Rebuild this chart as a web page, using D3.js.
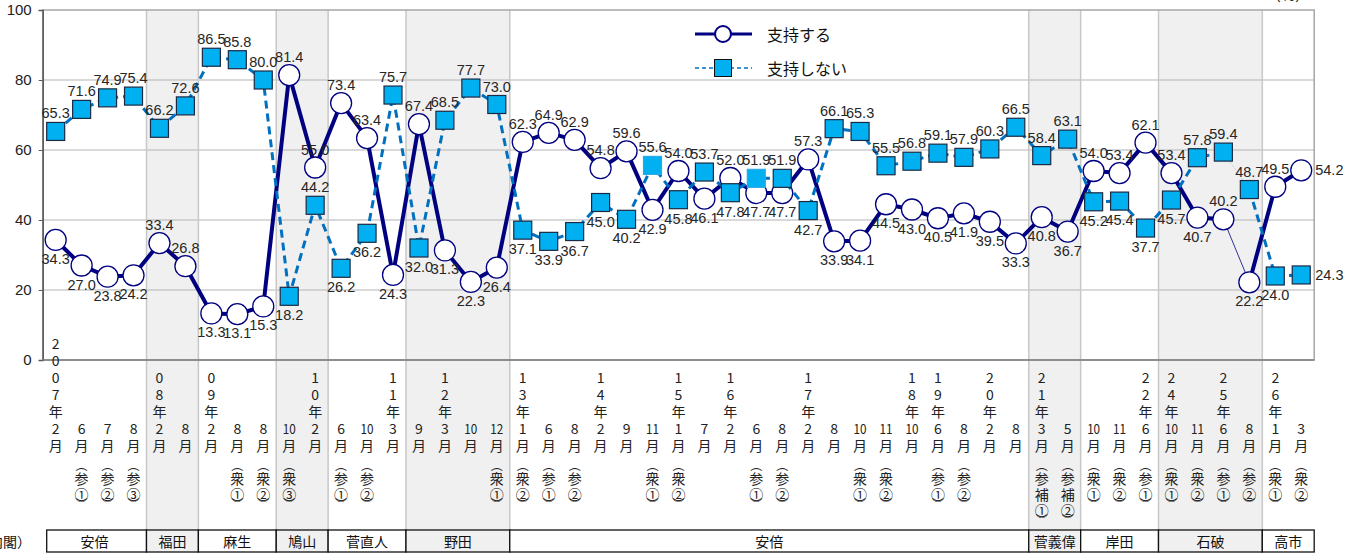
<!DOCTYPE html>
<html>
<head>
<meta charset="utf-8">
<script src="https://cdn.jsdelivr.net/npm/d3@7"></script>
<style>
  body { margin: 0; background: #fff; }
  svg { display: block; }
</style>
</head>
<body>
<svg id="chart"></svg>
<script>
// ---- data ----
const years = ['2007','','','','08','','09','','','','10','','','11','','12','','','13','','','14','','','15','','16','','','17','','','','18','19','','20','','21','','','','22','24','','25','','26',''];
const months = [2,6,7,8,2,8,2,8,8,10,2,6,10,3,9,3,10,12,1,6,8,2,9,11,1,7,2,6,8,2,8,10,11,10,6,8,2,8,3,5,10,11,6,10,11,6,8,1,3];
const notes = ['','参①','参②','参③','','','','衆①','衆②','衆③','','参①','参②','','','','','衆①','衆②','参①','参②','','','衆①','衆②','','','参①','参②','','','衆①','衆②','','参①','参②','','','参補①','参補②','衆①','衆②','参①','衆①','衆②','参①','参②','衆①','衆②'];

const supportVals = [34.3,27.0,23.8,24.2,33.4,26.8,13.3,13.1,15.3,81.4,55.0,73.4,63.4,24.3,67.4,31.3,22.3,26.4,62.3,64.9,62.9,54.8,59.6,42.9,54.0,46.1,52.0,47.7,47.7,57.3,33.9,34.1,44.5,43.0,40.5,41.9,39.5,33.3,40.8,36.7,54.0,53.4,62.1,53.4,40.7,40.2,22.2,49.5,54.2];
const nonSupportVals = [65.3,71.6,74.9,75.4,66.2,72.6,86.5,85.8,80.0,18.2,44.2,26.2,36.2,75.7,32.0,68.5,77.7,73.0,37.1,33.9,36.7,45.0,40.2,55.6,45.8,53.7,47.8,51.9,51.9,42.7,66.1,65.3,55.5,56.8,59.1,57.9,60.3,66.5,58.4,63.1,45.2,45.4,37.7,45.7,57.8,59.4,48.7,24.0,24.3];

const cabinetNames = ['安倍','福田','麻生','鳩山','菅直人','野田','安倍','菅義偉','岸田','石破','高市'];
const cabinetFirst = [0,4,6,9,11,14,18,38,40,43,47];
const yTicks = [0,20,40,60,80,100];
const seriesNames = ['支持する','支持しない'];

// ---- layout ----
const W = 1354, H = 554;
const plot = { left: 42.7, right: 1314.2, top: 10, bottom: 360 };
const labelBottom = 530;   // shading runs down to the cabinet table
const jp = '"Noto Sans CJK JP", sans-serif';
const num = '"Liberation Sans Narrow", "Arial Narrow", sans-serif';

const svg = d3.select('#chart').attr('width', W).attr('height', H);

const n = months.length;
const x = d3.scaleBand().domain(d3.range(n)).range([plot.left, plot.right]).padding(0);
const bw = x.bandwidth();
const xc = i => x(i) + bw / 2;
const y = d3.scaleLinear().domain([0, 100]).range([plot.bottom, plot.top]);

const cabinets = cabinetNames.map((name, k) => ({
  name,
  first: cabinetFirst[k],
  last: k < cabinetFirst.length - 1 ? cabinetFirst[k + 1] - 1 : n - 1,
  shaded: k % 2 === 1
}));

// background shading per cabinet
svg.append('g').selectAll('rect').data(cabinets.filter(c => c.shaded))
  .join('rect')
    .attr('x', c => x(c.first))
    .attr('y', plot.top)
    .attr('width', c => x(c.last) + bw - x(c.first))
    .attr('height', labelBottom - plot.top)
    .attr('fill', '#f0f0f0');

// horizontal gridlines
svg.append('g').selectAll('line').data(yTicks.filter(t => t > 0 && t < 100))
  .join('line')
    .attr('x1', plot.left).attr('x2', plot.right)
    .attr('y1', d => y(d)).attr('y2', d => y(d))
    .attr('stroke', '#b4b4b4').attr('stroke-width', 1.2);

// vertical cabinet separators
svg.append('g').selectAll('line').data(cabinets.slice(1))
  .join('line')
    .attr('x1', c => x(c.first)).attr('x2', c => x(c.first))
    .attr('y1', plot.top).attr('y2', labelBottom)
    .attr('stroke', '#c8c8c8').attr('stroke-width', 1.5);

// plot frame
svg.append('rect')
  .attr('x', plot.left).attr('y', plot.top)
  .attr('width', plot.right - plot.left).attr('height', plot.bottom - plot.top)
  .attr('fill', 'none').attr('stroke', '#a6a6a6').attr('stroke-width', 1.5);

// y axis
const yAxis = svg.append('g')
  .attr('transform', `translate(${plot.left},0)`)
  .call(d3.axisLeft(y).tickValues(yTicks).tickSize(4).tickPadding(7).tickFormat(d3.format('d')));
yAxis.select('.domain').attr('stroke', '#595959').attr('stroke-width', 1.5);
yAxis.selectAll('.tick line').attr('stroke', '#595959');
yAxis.selectAll('.tick text')
  .attr('font-family', '"Liberation Sans", Arial, sans-serif')
  .attr('font-size', 15).attr('fill', '#222');

// bottom axis line
svg.append('line')
  .attr('x1', plot.left).attr('x2', plot.right)
  .attr('y1', plot.bottom).attr('y2', plot.bottom)
  .attr('stroke', '#7f7f7f').attr('stroke-width', 1.5);

// ---- series ----
const idx = d3.range(n);
const breakAt = 45;   // thin joining segment 45 -> 46
const line = vals => d3.line().x(i => xc(i)).y(i => y(vals[i]));

// 支持する
const gS = svg.append('g');
[idx.slice(0, breakAt + 1), idx.slice(breakAt + 1)].forEach(part => {
  gS.append('path').attr('d', line(supportVals)(part))
    .attr('fill', 'none').attr('stroke', '#000080').attr('stroke-width', 4).attr('stroke-linejoin', 'round');
});
gS.append('path').attr('d', line(supportVals)([breakAt, breakAt + 1]))
  .attr('fill', 'none').attr('stroke', '#000080').attr('stroke-width', 0.8);
gS.selectAll('circle').data(idx).join('circle')
  .attr('cx', i => xc(i)).attr('cy', i => y(supportVals[i])).attr('r', 10.5)
  .attr('fill', '#fff').attr('stroke', '#000080').attr('stroke-width', 1.3);

// 支持しない
const gN = svg.append('g');
[idx.slice(0, breakAt + 1), idx.slice(breakAt + 1)].forEach(part => {
  gN.append('path').attr('d', line(nonSupportVals)(part))
    .attr('fill', 'none').attr('stroke', '#0070c0').attr('stroke-width', 3)
    .attr('stroke-dasharray', '8,5');
});
gN.append('path').attr('d', line(nonSupportVals)([breakAt, breakAt + 1]))
  .attr('fill', 'none').attr('stroke', '#9cc9ec').attr('stroke-width', 0.8)
  .attr('stroke-dasharray', '2,2');
const sq = 18;
const lightEdge = new Set([23, 27]);
gN.selectAll('rect').data(idx).join('rect')
  .attr('x', i => xc(i) - sq / 2).attr('y', i => y(nonSupportVals[i]) - sq / 2)
  .attr('width', sq).attr('height', sq)
  .attr('fill', '#00b0f0')
  .attr('stroke', i => lightEdge.has(i) ? '#30a8e8' : '#1b2a44').attr('stroke-width', 1.2);

// ---- data labels ----
const last = n - 1;
const labelPos = (vals, other, forceAbove) => i => {
  if (i === last) return 'right';
  if (forceAbove.has(i)) return 'above';
  return vals[i] > other[i] ? 'above' : 'below';
};
const posS = labelPos(supportVals, nonSupportVals, new Set([4, 5, 45]));
const posN = labelPos(nonSupportVals, supportVals, new Set([10]));

function drawLabels(vals, pos) {
  svg.append('g').selectAll('text').data(idx).join('text')
    .attr('x', i => pos(i) === 'right' ? xc(i) + 14 : xc(i))
    .attr('y', i => y(vals[i]) + (pos(i) === 'above' ? -18 : pos(i) === 'below' ? 19 : 0))
    .attr('text-anchor', i => pos(i) === 'right' ? 'start' : 'middle')
    .attr('dominant-baseline', 'central')
    .attr('font-family', num).attr('font-size', 14.5).attr('fill', '#262626')
    .text(i => vals[i].toFixed(1));
}
drawLabels(supportVals, posS);
drawLabels(nonSupportVals, posN);

// ---- x labels (vertical text) ----
const monthRow = 428, step = 17;
const xl = svg.append('g').attr('font-family', jp).attr('font-size', 14).attr('fill', '#222');
idx.forEach(i => {
  const cx = xc(i);
  const chars = [];
  if (years[i]) {
    const yc = (years[i] + '年').split('');
    yc.forEach((c, k) => chars.push({ t: c, y: monthRow - step * (yc.length - k) }));
  }
  chars.push({ t: String(months[i]), y: monthRow, wide: months[i] >= 10 });
  chars.push({ t: '月', y: monthRow + step });
  if (notes[i]) {
    let yy = monthRow + step + 19;
    chars.push({ t: '︵', y: yy, paren: true });
    yy += 14;
    notes[i].split('').forEach(c => { chars.push({ t: c, y: yy }); yy += 16; });
    chars.push({ t: '︶', y: yy - 7, paren: true });
  }
  chars.forEach(c => {
    const t = xl.append('text')
      .attr('x', cx).attr('y', c.y)
      .attr('text-anchor', 'middle').attr('dominant-baseline', 'central')
      .text(c.t);
    if (c.wide) t.attr('textLength', 13).attr('lengthAdjust', 'spacingAndGlyphs').attr('font-size', 13);
    if (c.paren) t.attr('font-size', 12);
  });
});

// ---- cabinet table ----
const tbl = svg.append('g');
tbl.selectAll('rect').data(cabinets).join('rect')
  .attr('x', c => c.first === 0 ? x(c.first) + 4 : x(c.first)).attr('y', 530)
  .attr('width', c => x(c.last) + bw - x(c.first) - (c.first === 0 ? 4 : 0)).attr('height', 22)
  .attr('fill', c => c.shaded ? '#f0f0f0' : '#fff')
  .attr('stroke', '#111').attr('stroke-width', 1.3);
tbl.selectAll('text').data(cabinets).join('text')
  .attr('x', c => (x(c.first) + x(c.last) + bw) / 2).attr('y', 541)
  .attr('text-anchor', 'middle').attr('dominant-baseline', 'central')
  .attr('font-family', jp).attr('font-size', 14).attr('fill', '#111')
  .text(c => c.name);
svg.append('text').attr('x', 31).attr('y', 541)
  .attr('text-anchor', 'end').attr('dominant-baseline', 'central')
  .attr('font-family', jp).attr('font-size', 14).attr('fill', '#111')
  .text('（内閣）');

// unit (mostly cut off at the top edge)
svg.append('text').attr('x', 1288).attr('y', 1)
  .attr('text-anchor', 'middle').attr('font-family', jp).attr('font-size', 15)
  .attr('fill', '#222').text('（%）');

// ---- legend ----
const lg = svg.append('g').attr('font-family', jp).attr('font-size', 16).attr('fill', '#111');
const l1 = 34, l2 = 68;
lg.append('line').attr('x1', 695).attr('x2', 752).attr('y1', l1).attr('y2', l1)
  .attr('stroke', '#000080').attr('stroke-width', 3);
lg.append('circle').attr('cx', 723).attr('cy', l1).attr('r', 8)
  .attr('fill', '#fff').attr('stroke', '#000080').attr('stroke-width', 2);
lg.append('line').attr('x1', 695).attr('x2', 752).attr('y1', l2).attr('y2', l2)
  .attr('stroke', '#0070c0').attr('stroke-width', 1.5).attr('stroke-dasharray', '4,3');
lg.append('rect').attr('x', 723 - 8.5).attr('y', l2 - 8.5).attr('width', 17).attr('height', 17)
  .attr('fill', '#00b0f0').attr('stroke', '#111').attr('stroke-width', 1);
lg.selectAll('text.lab').data(seriesNames).join('text')
  .attr('class', 'lab')
  .attr('x', 767).attr('y', (d, k) => k === 0 ? l1 : l2)
  .attr('dominant-baseline', 'central')
  .text(d => d);
</script>
</body>
</html>
